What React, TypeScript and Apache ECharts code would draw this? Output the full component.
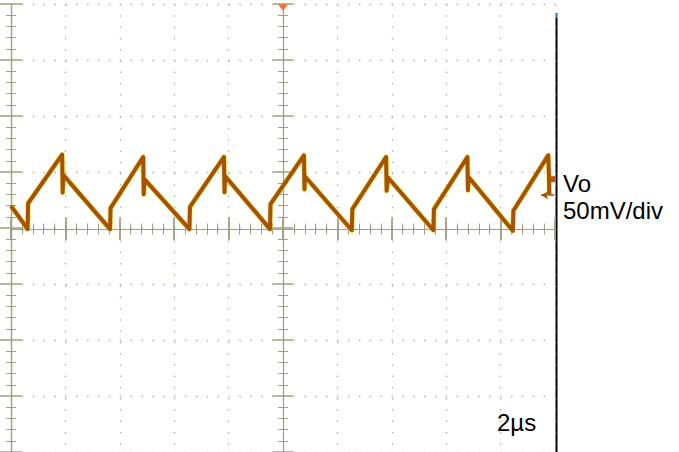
import React, { useEffect, useRef } from "react";
import * as echarts from "echarts";

// Time base: 2 µs/div, 10 divisions; vertical: 50 mV/div, 8 divisions
const timeTicksUs = [0, 2, 4, 6, 8, 10, 12, 14, 16, 18, 20];
const voltTicksMv = [-200, -150, -100, -50, 0, 50, 100, 150, 200];

// Vo ripple trace (µs, mV)
const traceTimeUs = [
  0.0, 0.61, 0.63, 1.88, 1.9, 1.92,
  3.64, 3.66, 4.86, 4.88, 4.9,
  6.56, 6.58, 7.83, 7.85, 7.87,
  9.52, 9.54, 10.77, 10.79, 10.81,
  12.53, 12.55, 13.79, 13.81, 13.86,
  15.53, 15.55, 16.78, 16.8, 16.82,
  18.45, 18.47, 19.75, 19.78, 19.79,
];
const traceVoltMv = [
  19.8, -0.9, 22.1, 65.5, 31.7, 47.4,
  -1.0, 17.8, 63.4, 30.2, 43.6,
  -1.0, 18.9, 63.4, 32.0, 46.5,
  -1.0, 21.3, 64.9, 34.7, 46.0,
  -2.0, 16.9, 63.4, 33.2, 45.1,
  -2.0, 16.9, 63.4, 33.7, 45.6,
  -2.5, 15.4, 64.9, 45.6, 30.0,
];

const triggerMark = { timeUs: 10, voltMv: 200 };
const levelMark = { timeUs: 20, voltMv: 43.6 };
const arrowMark = { fromUs: 19.49, toUs: 19.97, voltMv: 29.3 };

const channelName = "Vo";
const channelScale = "50mV/div";
const timeScale = "2µs";

const TAN = "#a29e82";
const DOT = "#b5b19a";
const BROWN = "#a65200";
const YELLOW = "#e6d800";
const FONT = '24px "Liberation Sans", Arial, sans-serif';

export default function App() {
  const ref = useRef<HTMLDivElement>(null);

  useEffect(() => {
    if (!ref.current) return;
    const chart = echarts.init(ref.current, undefined, { renderer: "svg" });

    const xMin = timeTicksUs[0];
    const xMax = timeTicksUs[timeTicksUs.length - 1];
    const xStep = timeTicksUs[1] - timeTicksUs[0];
    const yMin = voltTicksMv[0];
    const yMax = voltTicksMv[voltTicksMv.length - 1];
    const yStep = voltTicksMv[1] - voltTicksMv[0];

    const gridLeft = 11;
    const gridTop = 4;
    const gridW = 544;
    const gridH = 450;

    const xBase = (extra: any) => ({
      type: "value",
      min: xMin,
      max: xMax,
      interval: xStep,
      axisLabel: { show: false },
      splitLine: { show: false },
      axisLine: { show: false, lineStyle: { color: TAN, width: 1 } },
      ...extra,
    });
    const yBase = (extra: any) => ({
      type: "value",
      min: yMin,
      max: yMax,
      interval: yStep,
      axisLabel: { show: false },
      splitLine: { show: false },
      axisLine: { show: false, lineStyle: { color: TAN, width: 1 } },
      ...extra,
    });
    const tick = (inside: boolean, len: number, w = 1.5) => ({
      show: true,
      inside,
      length: len,
      lineStyle: { color: TAN, width: w },
    });
    const minor = (len: number) => ({
      show: true,
      splitNumber: 5,
      length: len,
      lineStyle: { color: TAN, width: 1 },
    });

    const traceData = traceTimeUs.map((t, i) => [t, traceVoltMv[i]]);

    chart.setOption({
      animation: false,
      backgroundColor: "#ffffff",
      grid: { left: gridLeft, top: gridTop, width: gridW, height: gridH },
      xAxis: [
        xBase({
          position: "bottom",
          axisTick: tick(true, 11),
          minorTick: minor(4.5),
          splitLine: {
            show: true,
            lineStyle: { color: DOT, width: 1.3, type: [1.5, 9.76] },
          },
        }),
        xBase({ position: "top", axisTick: tick(true, 11), minorTick: minor(4.5) }),
        xBase({
          position: "bottom",
          offset: -gridH / 2,
          axisLine: { show: true, lineStyle: { color: TAN, width: 1.2 } },
          axisTick: tick(true, 8),
          minorTick: minor(5),
        }),
        xBase({
          position: "bottom",
          offset: -gridH / 2,
          axisTick: tick(false, 11),
          minorTick: minor(5.5),
        }),
      ],
      yAxis: [
        yBase({
          position: "left",
          axisLine: { show: true, lineStyle: { color: TAN, width: 1.2 } },
          axisTick: tick(true, 11),
          minorTick: minor(5),
          splitLine: {
            show: true,
            lineStyle: { color: DOT, width: 1.3, type: [1.5, 9.37] },
          },
        }),
        yBase({
          position: "right",
          axisLine: { show: true, lineStyle: { color: TAN, width: 1.2 } },
          axisTick: tick(true, 11),
          minorTick: minor(5),
        }),
        yBase({
          position: "left",
          offset: -gridW / 2,
          axisLine: { show: true, lineStyle: { color: TAN, width: 1.2 } },
          axisTick: tick(true, 10),
          minorTick: minor(5),
        }),
        yBase({
          position: "left",
          offset: -gridW / 2,
          axisTick: tick(false, 10),
          minorTick: minor(5),
        }),
      ],
      series: [
        {
          type: "line",
          xAxisIndex: 0,
          yAxisIndex: 0,
          data: traceData,
          symbol: "none",
          silent: true,
          lineStyle: { color: YELLOW, width: 5.5, opacity: 0.55, join: "round" },
          z: 3,
        },
        {
          type: "line",
          xAxisIndex: 0,
          yAxisIndex: 0,
          data: traceData,
          symbol: "none",
          silent: true,
          lineStyle: { color: BROWN, width: 4, join: "round" },
          z: 4,
          markPoint: {
            silent: true,
            label: { show: false },
            data: [
              {
                coord: [triggerMark.timeUs, triggerMark.voltMv],
                symbol: "triangle",
                symbolRotate: 180,
                symbolSize: [10, 6],
                symbolOffset: [0, 3.5],
                itemStyle: { color: "#ff6a26" },
              },
              {
                coord: [levelMark.timeUs, levelMark.voltMv],
                symbol: "rect",
                symbolSize: [5, 6],
                symbolOffset: [-2.5, 0],
                itemStyle: { color: "#b85a08" },
              },
            ],
          },
          markLine: {
            silent: true,
            symbol: ["arrow", "none"],
            symbolSize: [6, 7],
            label: { show: false },
            lineStyle: { color: BROWN, width: 1.5, type: "solid" },
            data: [
              [
                { coord: [arrowMark.fromUs, arrowMark.voltMv] },
                { coord: [arrowMark.toUs, arrowMark.voltMv] },
              ],
            ],
          },
        },
      ],
      graphic: [
        {
          type: "line",
          shape: { x1: 556.5, y1: 18, x2: 556.5, y2: 452 },
          style: { stroke: "#000000", lineWidth: 2 },
          silent: true,
        },
        {
          type: "line",
          shape: { x1: 556.5, y1: 13, x2: 556.5, y2: 18 },
          style: { stroke: "#1f6fb5", lineWidth: 2 },
          silent: true,
        },
        {
          type: "text",
          x: 563,
          y: 183.5,
          style: {
            text: channelName,
            font: FONT,
            fill: "#000000",
            align: "left",
            textAlign: "left",
            verticalAlign: "middle",
            textVerticalAlign: "middle",
          },
        },
        {
          type: "text",
          x: 563,
          y: 210.5,
          style: {
            text: channelScale,
            font: FONT,
            fill: "#000000",
            align: "left",
            textAlign: "left",
            verticalAlign: "middle",
            textVerticalAlign: "middle",
          },
        },
        {
          type: "text",
          x: 497,
          y: 422,
          style: {
            text: timeScale,
            font: FONT,
            fill: "#000000",
            align: "left",
            textAlign: "left",
            verticalAlign: "middle",
            textVerticalAlign: "middle",
          },
        },
      ],
    });

    return () => chart.dispose();
  }, []);

  return (
    <div
      ref={ref}
      style={{ position: "fixed", left: 0, top: 0, width: 679, height: 452, background: "#fff" }}
    />
  );
}
